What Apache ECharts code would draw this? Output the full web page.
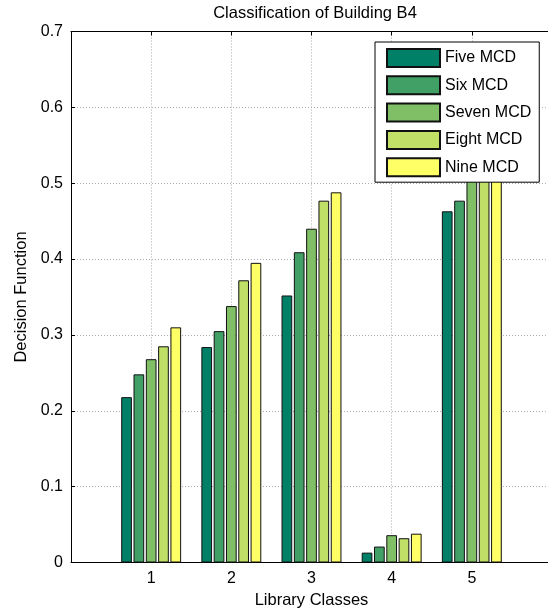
<!DOCTYPE html>
<html>
<head>
<meta charset="utf-8">
<script src="https://cdn.jsdelivr.net/npm/echarts@6/dist/echarts.min.js"></script>
<style>html,body{margin:0;padding:0;background:#fff;overflow:hidden;}#c{width:548px;height:614px;}</style>
</head>
<body>
<div id="c"></div>
<script>
const classes = [1, 2, 3, 4, 5];
const seriesNames = ['Five MCD', 'Six MCD', 'Seven MCD', 'Eight MCD', 'Nine MCD'];
const fiveMCD  = [0.218, 0.284, 0.352, 0.013, 0.463];
const sixMCD   = [0.248, 0.305, 0.409, 0.021, 0.477];
const sevenMCD = [0.268, 0.338, 0.440, 0.036, 0.550];
const eightMCD = [0.285, 0.372, 0.477, 0.032, 0.590];
const nineMCD  = [0.310, 0.395, 0.488, 0.038, 0.620];
const colors = ['#008066', '#40a066', '#80bf66', '#bfdf66', '#ffff66'];
const yTicks = [0, 0.1, 0.2, 0.3, 0.4, 0.5, 0.6, 0.7];

const allValues = [fiveMCD, sixMCD, sevenMCD, eightMCD, nineMCD];
const FONT = 'Liberation Sans';

const chart = echarts.init(document.getElementById('c'), null, {renderer: 'canvas'});
const series = allValues.map((vals, i) => ({
  name: seriesNames[i],
  type: 'bar',
  data: classes.map((c, j) => [c, vals[j]]),
  barWidth: 10.7,
  barGap: '15%',
  itemStyle: {color: colors[i], borderColor: '#111', borderWidth: 1},
  emphasis: {disabled: true},
  animation: false
}));

chart.setOption({
  animation: false,
  title: {
    text: 'Classification of Building B4',
    left: 310, top: 0, textAlign: 'center',
    textStyle: {fontFamily: FONT, fontSize: 16.5, fontWeight: 'normal', color: '#000'}
  },
  legend: {
    data: seriesNames,
    orient: 'vertical',
    left: 375, top: 42,
    padding: [6, 8, 5, 11],
    itemGap: 7.3,
    itemWidth: 53, itemHeight: 18,
    icon: 'rect',
    backgroundColor: '#fff',
    borderColor: '#000', borderWidth: 1,
    textStyle: {fontFamily: FONT, fontSize: 16, color: '#000'},
    selectedMode: false
  },
  grid: {left: 71, top: 31.5, height: 531, width: 481, show: false, containLabel: false, outerBoundsMode: 'none'},
  xAxis: [{
    type: 'value', min: 0, max: 6, interval: 1,
    name: 'Library Classes', nameLocation: 'middle', nameGap: 29,
    nameTextStyle: {fontFamily: FONT, fontSize: 16.5, color: '#000'},
    axisLine: {show: true, onZero: false, lineStyle: {color: '#000', width: 1}},
    axisTick: {show: true, inside: true, length: 4, lineStyle: {color: '#000'}},
    axisLabel: {fontFamily: FONT, fontSize: 16, color: '#000', margin: 8,
      formatter: v => (v >= 1 && v <= 5) ? String(v) : ''},
    splitLine: {show: true, lineStyle: {color: '#aaa', type: [1, 2], width: 1}}
  }, {
    type: 'value', min: 0, max: 6, interval: 1, position: 'top',
    axisLine: {show: true, onZero: false, lineStyle: {color: '#000', width: 1}},
    axisTick: {show: true, inside: true, length: 4, lineStyle: {color: '#000'}},
    axisLabel: {show: false}, splitLine: {show: false}
  }],
  yAxis: [{
    type: 'value', min: 0, max: 0.7, interval: 0.1,
    name: 'Decision Function', nameLocation: 'middle', nameGap: 38,
    nameTextStyle: {fontFamily: FONT, fontSize: 16.5, color: '#000'},
    axisLine: {show: true, onZero: false, lineStyle: {color: '#000', width: 1}},
    axisTick: {show: true, inside: true, length: 4, lineStyle: {color: '#000'}},
    axisLabel: {fontFamily: FONT, fontSize: 16, color: '#000', margin: 8,
      formatter: v => { const t = yTicks.find(x => Math.abs(x - v) < 1e-9); return t === 0 ? '0' : t.toFixed(1); }},
    splitLine: {show: true, lineStyle: {color: '#aaa', type: [1, 2], width: 1}}
  }],
  series: series
});
</script>
</body>
</html>
